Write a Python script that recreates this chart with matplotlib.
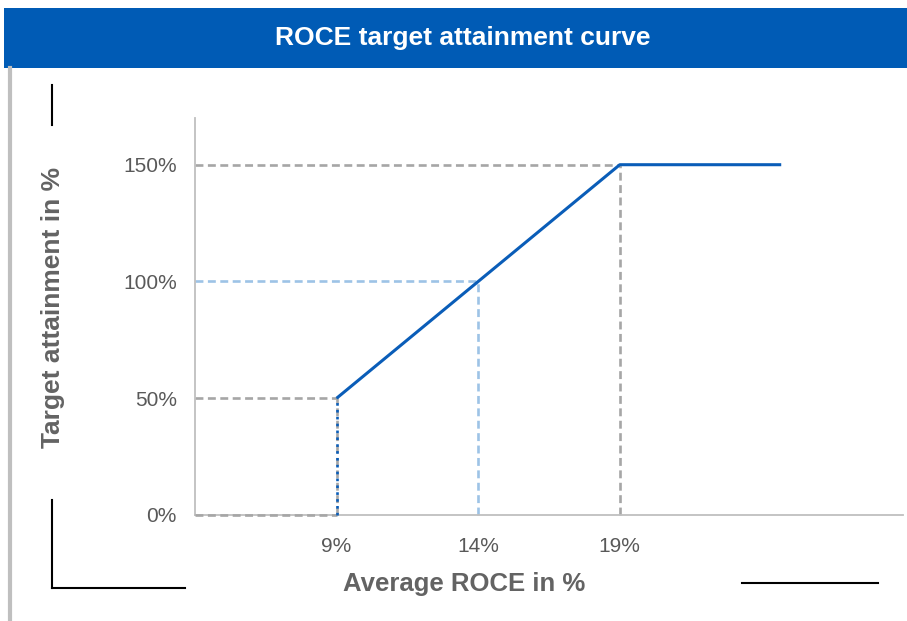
import matplotlib
matplotlib.use("Agg")
import matplotlib.pyplot as plt
from matplotlib.lines import Line2D
from matplotlib.patches import Rectangle

plt.rcParams['font.family'] = ['Liberation Sans', 'DejaVu Sans']

# ---- data ----
title = "ROCE target attainment curve"
x_label = "Average ROCE in %"
y_label = "Target attainment in %"
x_ticks = [9, 14, 19]
x_tick_labels = ["9%", "14%", "19%"]
y_ticks = [0, 50, 100, 150]
y_tick_labels = ["0%", "50%", "100%", "150%"]
curve_x = [9, 19, 24.7]
curve_y = [50, 150, 150]
threshold_x = [9, 9]
threshold_y = [0, 50]
ref_x = [9, 14, 19]
ref_y = [50, 100, 150]
ref_colors = ["#A6A6A6", "#9DC3E6", "#A6A6A6"]
x_min, x_max = 4, 29
y_min, y_max = 0, 170

W, H = 907, 621
fig = plt.figure(figsize=(W / 100, H / 100), dpi=100)
fig.patch.set_facecolor("white")

def fx(px):
    return px / W

def fy(py):
    return 1 - py / H

# title bar
fig.patches.append(Rectangle((fx(4), fy(68)), 1 - fx(4), fy(8) - fy(68),
                             transform=fig.transFigure, facecolor="#005BB5",
                             edgecolor="none", zorder=0))
fig.text(fx(463), fy(38), title, color="white", fontsize=19, fontweight="bold",
         ha="center", va="center")

# left gray border
fig.lines.append(Line2D([fx(9.5), fx(9.5)], [fy(68), 0], transform=fig.transFigure,
                        color="#BFBFBF", lw=3))
# decorative black brackets
for xs, ys in [((52, 52), (85, 125)), ((52, 52), (500, 588)),
               ((52, 185), (588, 588)), ((742, 878), (583, 583))]:
    fig.lines.append(Line2D([fx(xs[0]), fx(xs[1])], [fy(ys[0]), fy(ys[1])],
                            transform=fig.transFigure, color="black", lw=1.5))

# axes
ax_left, ax_right, ax_top, ax_bottom = 195, 903, 118, 515
ax = fig.add_axes([fx(ax_left), fy(ax_bottom), fx(ax_right) - fx(ax_left),
                   fy(ax_top) - fy(ax_bottom)])
ax.set_xlim(x_min, x_max)
ax.set_ylim(y_min, y_max)
for s in ["top", "right"]:
    ax.spines[s].set_visible(False)
for s in ["left", "bottom"]:
    ax.spines[s].set_color("#BFBFBF")
    ax.spines[s].set_linewidth(1.3)

dash = (0, (3.0, 1.7))
# reference dashed lines
for rx, ry, c in zip(ref_x, ref_y, ref_colors):
    ax.plot([x_min, rx], [ry, ry], color=c, lw=1.9, linestyle=dash, zorder=2,
            clip_on=False)
    ax.plot([rx, rx], [0, ry], color=c, lw=1.9, linestyle=dash, zorder=2,
            clip_on=False)
# dashed line along baseline to threshold
ax.plot([x_min, threshold_x[0]], [0, 0], color="#A6A6A6", lw=1.9, linestyle=dash,
        zorder=3, clip_on=False)

# threshold dotted segment
ax.plot(threshold_x, threshold_y, color="#0A5DB8", lw=1.9,
        linestyle=(0, (1, 1.6)), zorder=4, clip_on=False)
# curve
ax.plot(curve_x, curve_y, color="#0A5DB8", lw=2.2, zorder=5, solid_capstyle="butt")

ax.set_xticks(x_ticks)
ax.set_xticklabels(x_tick_labels)
ax.set_yticks(y_ticks)
ax.set_yticklabels(y_tick_labels)
ax.tick_params(axis="both", length=0, labelsize=15, labelcolor="#595959")
ax.tick_params(axis="x", pad=16)
ax.tick_params(axis="y", pad=13)

fig.text(fx(464), fy(584), x_label, color="#636363", fontsize=18.5,
         fontweight="bold", ha="center", va="center")
fig.text(fx(53), fy(307), y_label, color="#636363", fontsize=19,
         fontweight="bold", ha="center", va="center", rotation=90)

fig.savefig("out.png", dpi=100)
